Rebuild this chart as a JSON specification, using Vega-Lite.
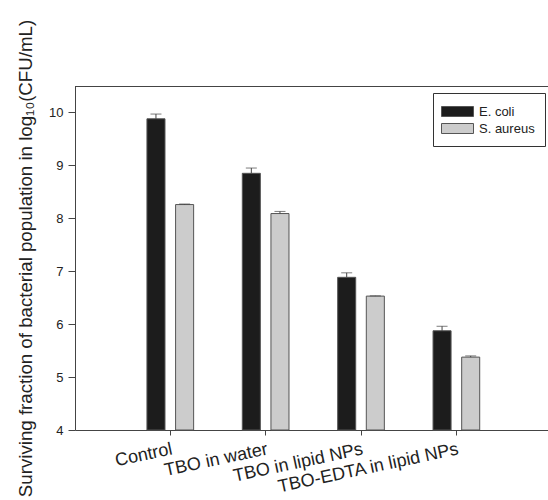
{
  "$schema": "https://vega.github.io/schema/vega-lite/v6.json",
  "width": 473,
  "height": 344,
  "autosize": {"type": "none"},
  "padding": {"left": 75, "top": 86, "right": 0, "bottom": 70},
  "background": "white",
  "config": {
    "view": {"stroke": null},
    "font": "Liberation Sans",
    "axis": {"domainColor": "#444", "tickColor": "#444", "labelColor": "#222", "titleColor": "#222", "grid": false, "labelFont": "Liberation Sans", "titleFont": "Liberation Sans"}
  },
  "data": {
    "values": [
      {"treatment": "Control", "strain": "E. coli", "value": 9.88, "upper": 9.97},
      {"treatment": "Control", "strain": "S. aureus", "value": 8.26, "upper": 8.27},
      {"treatment": "TBO in water", "strain": "E. coli", "value": 8.85, "upper": 8.95},
      {"treatment": "TBO in water", "strain": "S. aureus", "value": 8.09, "upper": 8.13},
      {"treatment": "TBO in lipid NPs", "strain": "E. coli", "value": 6.885, "upper": 6.97},
      {"treatment": "TBO in lipid NPs", "strain": "S. aureus", "value": 6.53, "upper": 6.535},
      {"treatment": "TBO-EDTA in lipid NPs", "strain": "E. coli", "value": 5.875, "upper": 5.96},
      {"treatment": "TBO-EDTA in lipid NPs", "strain": "S. aureus", "value": 5.377, "upper": 5.40}
    ]
  },
  "layer": [
    {
      "mark": {"type": "rule", "color": "#444", "strokeWidth": 1, "yOffset": 0.5},
      "encoding": {"y": {"datum": 10.5, "type": "quantitative", "scale": {"domain": [4, 10.5], "nice": false, "zero": false}}}
    },
    {
      "encoding": {
        "x": {
          "field": "treatment",
          "type": "nominal",
          "scale": {"domain": ["Control", "TBO in water", "TBO in lipid NPs", "TBO-EDTA in lipid NPs"], "paddingInner": 0, "paddingOuter": 0.48, "align": 0.52},
          "axis": {"title": null, "labelAngle": -12, "labelAlign": "right", "labelBaseline": "top", "labelFontSize": 18, "tickSize": 5, "labelPadding": 5, "labelDx": 1, "labelLimit": 400}
        },
        "xOffset": {
          "field": "strain",
          "type": "nominal",
          "scale": {"domain": ["E. coli", "S. aureus"], "paddingInner": 0.37, "paddingOuter": 0.85}
        }
      },
      "layer": [
        {
          "mark": {"type": "bar", "stroke": "#555", "strokeWidth": 1},
          "encoding": {
            "y": {
              "field": "value",
              "type": "quantitative",
              "scale": {"domain": [4, 10.5], "nice": false, "zero": false},
              "axis": {"title": "Surviving fraction of bacterial population in log₁₀(CFU/mL)", "values": [4, 5, 6, 7, 8, 9, 10], "tickSize": 7, "labelPadding": 5, "labelFontSize": 13, "titleFontSize": 18.7, "titleFontWeight": "normal", "titlePadding": 13}
            },
            "y2": {"datum": 4},
            "color": {
              "field": "strain",
              "type": "nominal",
              "scale": {"domain": ["E. coli", "S. aureus"], "range": ["#1c1c1c", "#cccccc"]},
              "legend": {
                "title": null,
                "orient": "none",
                "legendX": 358,
                "legendY": 7,
                "strokeColor": "#333",
                "fillColor": "white",
                "padding": 10,
                "labelFontSize": 13,
                "labelColor": "#222",
                "labelOffset": 13,
                "symbolType": "M-2,-0.625H2V0.625H-2Z",
                "symbolSize": 256,
                "symbolStrokeColor": "#555",
                "symbolStrokeWidth": 1,
                "symbolOffset": 6,
                "rowPadding": 1
              }
            }
          }
        },
        {
          "mark": {"type": "rule", "color": "#444", "strokeWidth": 1},
          "encoding": {
            "y": {"field": "value", "type": "quantitative"},
            "y2": {"field": "upper"}
          }
        },
        {
          "mark": {"type": "tick", "color": "#444", "size": 11, "thickness": 1},
          "encoding": {
            "y": {"field": "upper", "type": "quantitative"}
          }
        }
      ]
    }
  ]
}
